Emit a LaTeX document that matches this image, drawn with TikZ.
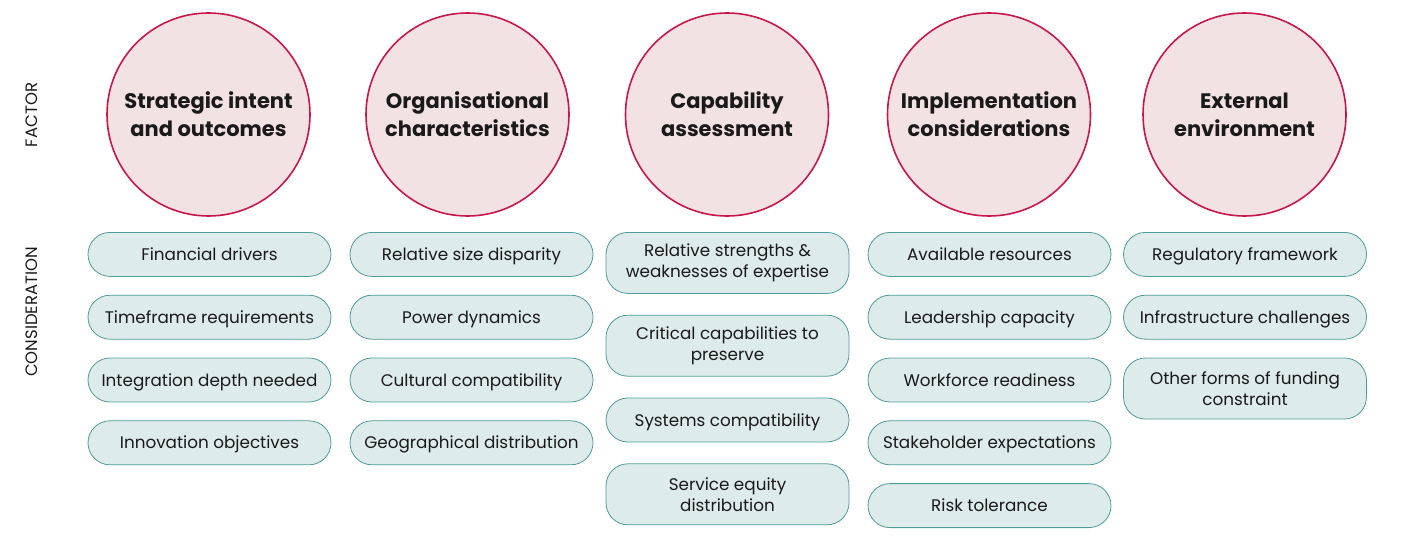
\documentclass[tikz,border=0pt]{standalone}
\usepackage{fontspec}
\setmainfont{Poppins}
\usetikzlibrary{positioning}
\definecolor{ink}{HTML}{1A1A1A}
\definecolor{rose}{HTML}{F3E2E4}
\definecolor{crimson}{HTML}{C8174A}
\definecolor{mint}{HTML}{DDEBEA}
\definecolor{sea}{HTML}{4E9C98}

\begin{document}
\begin{tikzpicture}[x=1pt,y=-1pt,text=ink,
      factor/.style={circle,minimum size=203pt,inner sep=0pt,fill=rose,
                     draw=crimson,line width=1.6pt,align=center,
                     font=\fontsize{21}{28}\selectfont\bfseries},
      box/.style={rounded corners=22pt,minimum width=243pt,minimum height=44pt,
                  inner sep=2pt,fill=mint,draw=sea,line width=0.8pt,align=center,
                  font=\fontsize{16.8}{21}\selectfont},
      pill/.style={box,text height=15pt,text depth=3pt},
      tall/.style={box,minimum height=61pt},
      side/.style={rotate=90,font=\fontsize{16.5}{18}\selectfont}]
    \useasboundingbox (0,0) rectangle (1412,559);
    % row labels
    \node[side] (lf) at (32,115) {FACTOR};
    \node[side] (lc) at (32,312) {CONSIDERATION};
    % factors
    \node[factor] (f1) at (208.5,114.5) {Strategic intent\\and outcomes};
    \node[factor] (f2) at (467.5,114.5) {Organisational\\characteristics};
    \node[factor] (f3) at (727,114.5) {Capability\\assessment};
    \node[factor] (f4) at (989,114.5) {Implementation\\considerations};
    \node[factor] (f5) at (1244.5,114.5) {External\\environment};
    % considerations
    \node[pill,anchor=north] (a1) at (209.5,232) {Financial drivers};
    \node[pill,below=18pt of a1] (a2) {Timeframe requirements};
    \node[pill,below=18pt of a2] (a3) {Integration depth needed};
    \node[pill,below=18pt of a3] (a4) {Innovation objectives};
    \node[pill,anchor=north] (b1) at (471.5,232) {Relative size disparity};
    \node[pill,below=18pt of b1] (b2) {Power dynamics};
    \node[pill,below=18pt of b2] (b3) {Cultural compatibility};
    \node[pill,below=18pt of b3] (b4) {Geographical distribution};
    \node[tall,anchor=north] (c1) at (727.5,232) {Relative strengths \&\\weaknesses of expertise};
    \node[tall,below=21pt of c1] (c2) {Critical capabilities to\\preserve};
    \node[pill,below=21pt of c2] (c3) {Systems compatibility};
    \node[tall,below=21pt of c3] (c4) {Service equity\\distribution};
    \node[pill,anchor=north] (d1) at (989.5,232) {Available resources};
    \node[pill,below=18pt of d1] (d2) {Leadership capacity};
    \node[pill,below=18pt of d2] (d3) {Workforce readiness};
    \node[pill,below=18pt of d3] (d4) {Stakeholder expectations};
    \node[pill,below=18pt of d4] (d5) {Risk tolerance};
    \node[pill,anchor=north] (e1) at (1245,232) {Regulatory framework};
    \node[pill,below=18pt of e1] (e2) {Infrastructure challenges};
    \node[tall,below=18pt of e2] (e3) {Other forms of funding\\constraint};
\end{tikzpicture}
\end{document}
